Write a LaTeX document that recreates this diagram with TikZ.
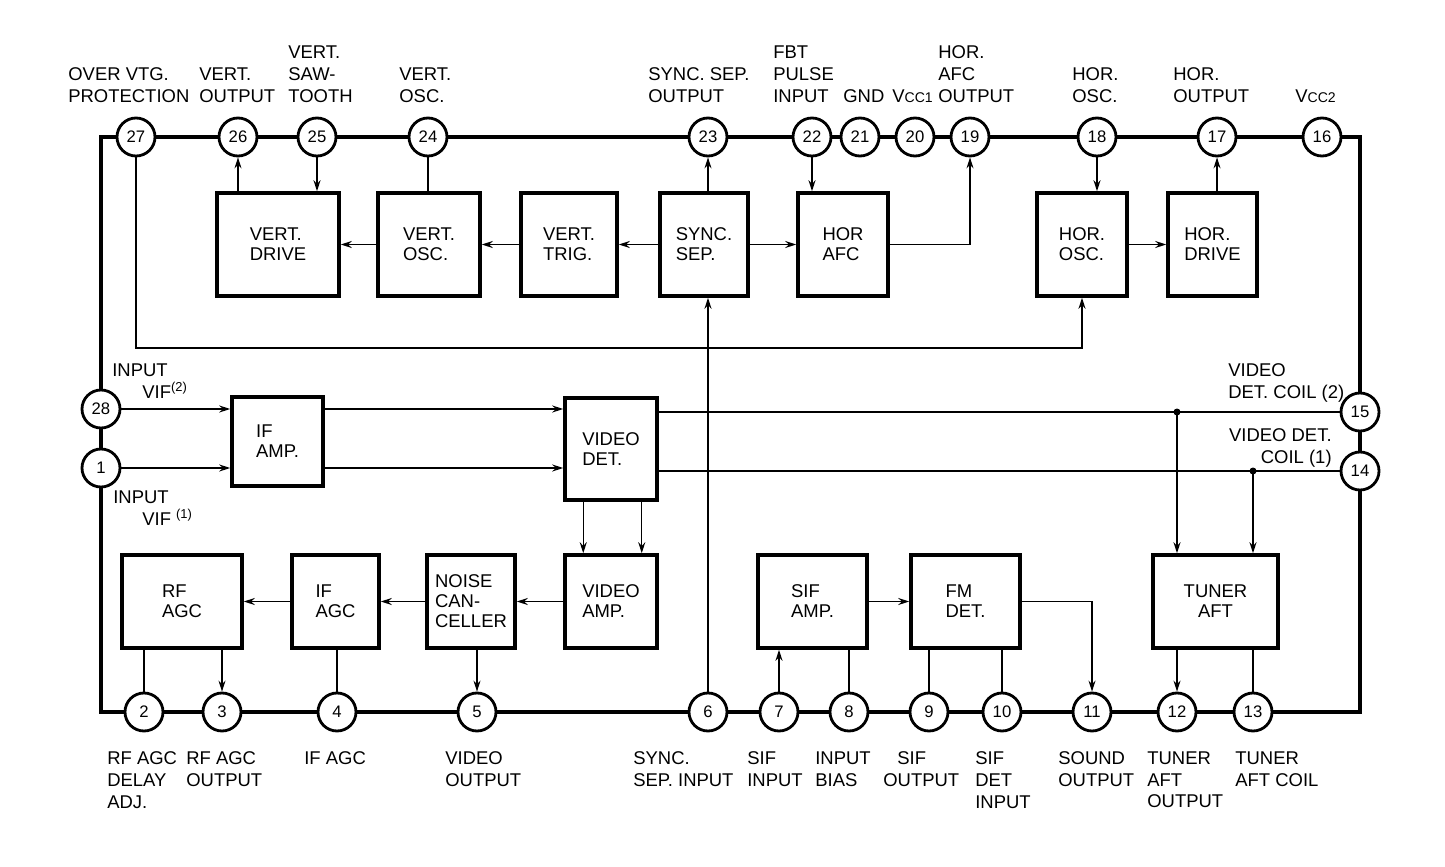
\documentclass[tikz,border=0pt]{standalone}
\usepackage{fontspec}
\setmainfont{Liberation Sans}
\usetikzlibrary{arrows.meta,positioning}

\newcommand{\lblfont}{\fontsize{10.5}{12.5}\selectfont}
\newcommand{\blkfont}{\fontsize{10.5}{11.4}\selectfont}
\newcommand{\vcc}[1]{V{\fontsize{8}{8}\selectfont CC#1}}

\tikzstyle{border} = [line width=2.4pt]
\tikzstyle{blk} = [draw, line width=2pt, fill=white, align=left, font=\blkfont, inner sep=0pt]
\tikzstyle{pinnode} = [draw, circle, line width=1.6pt, fill=white, minimum size=7.6mm, inner sep=0pt, font=\fontsize{9.5}{9.5}\selectfont]
\tikzstyle{sig} = [line width=0.8pt, -{Stealth[length=2.2mm,width=1.4mm]}]
\tikzstyle{wire} = [line width=0.8pt]
\tikzstyle{lbl} = [align=left, inner sep=0pt, font=\lblfont]

\begin{document}
\begin{tikzpicture}[x=0.2mm, y=-0.2mm]
    \useasboundingbox (0,0) rectangle (1445,867);

    % Package outline
    \draw[border] (101,137) rectangle (1360,712);

    % Pins
    \foreach \n/\x in {27/136, 26/238, 25/317, 24/428, 23/708, 22/812, 21/860, 20/915, 19/970, 18/1097, 17/1217, 16/1322}
        \node[pinnode] (p\n) at (\x,137) {\n};
    \foreach \n/\x in {2/144, 3/222, 4/337, 5/477, 6/708, 7/779, 8/849, 9/929, 10/1002, 11/1092, 12/1177, 13/1253}
        \node[pinnode] (p\n) at (\x,712) {\n};
    \node[pinnode] (p28) at (101,409) {28};
    \node[pinnode] (p1) at (101,468) {1};
    \node[pinnode] (p15) at (1360,412) {15};
    \node[pinnode] (p14) at (1360,471) {14};

    % Blocks, top row
    \node[blk, minimum width=24.4mm, minimum height=20.6mm] (vdrive) at (278,244.5) {VERT.\\DRIVE};
    \node[blk, minimum width=20.4mm, minimum height=20.6mm] (vosc) at (429,244.5) {VERT.\\OSC.};
    \node[blk, minimum width=19.2mm, minimum height=20.6mm] (vtrig) at (569,244.5) {VERT.\\TRIG.};
    \node[blk, minimum width=17.6mm, minimum height=20.6mm] (syncsep) at (704,244.5) {SYNC.\\SEP.};
    \node[blk, minimum width=18mm, minimum height=20.6mm] (horafc) at (843,244.5) {HOR\\AFC};
    \node[blk, minimum width=18mm, minimum height=20.6mm] (horosc) at (1082,244.5) {HOR.\\OSC.};
    \node[blk, minimum width=17.8mm, minimum height=20.6mm] (hordrive) at (1212.5,244.5) {HOR.\\DRIVE};

    % Blocks, middle
    \node[blk, minimum width=18.2mm, minimum height=17.8mm] (ifamp) at (277.5,441.5) {IF\\AMP.};
    \node[blk, minimum width=18.4mm, minimum height=20.4mm] (viddet) at (611,449) {VIDEO\\DET.};

    % Blocks, bottom row
    \node[blk, minimum width=24mm, minimum height=18.6mm] (rfagc) at (182,601.5) {RF\\AGC};
    \node[blk, minimum width=17.4mm, minimum height=18.6mm] (ifagc) at (335.5,601.5) {IF\\AGC};
    \node[blk, minimum width=17.6mm, minimum height=18.6mm] (noise) at (471,601.5) {NOISE\\CAN-\\CELLER};
    \node[blk, minimum width=18.4mm, minimum height=18.6mm] (vidamp) at (611,601.5) {VIDEO\\AMP.};
    \node[blk, minimum width=21.8mm, minimum height=18.6mm] (sifamp) at (812.5,601.5) {SIF\\AMP.};
    \node[blk, minimum width=21.8mm, minimum height=18.6mm] (fmdet) at (965.5,601.5) {FM\\DET.};
    \node[blk, minimum width=25mm, minimum height=18.6mm, align=center] (tuner) at (1215.5,601.5) {TUNER\\AFT};

    \coordinate (bend27) at (136,348);
    \coordinate (j15) at (p12 |- p15);
    \coordinate (j14) at (p13 |- p14);

    % Top connections
    \draw[sig] (p26 |- vdrive.north) -- (p26);
    \draw[sig] (p25) -- (p25 |- vdrive.north);
    \draw[wire] (p24) -- (p24 |- vosc.north);
    \draw[sig] (vosc) -- (vdrive);
    \draw[sig] (vtrig) -- (vosc);
    \draw[sig] (syncsep) -- (vtrig);
    \draw[sig] (p23 |- syncsep.north) -- (p23);
    \draw[sig] (syncsep) -- (horafc);
    \draw[sig] (p22) -- (p22 |- horafc.north);
    \draw[sig] (horafc) -| (p19);
    \draw[sig] (p18) -- (p18 |- horosc.north);
    \draw[sig] (p17 |- hordrive.north) -- (p17);
    \draw[sig] (horosc) -- (hordrive);
    \draw[sig] (p27) -- (bend27) -| (horosc);

    % IF / video detector
    \draw[sig] (p28) -- (p28 -| ifamp.west);
    \draw[sig] (p1) -- (p1 -| ifamp.west);
    \draw[sig] (ifamp.east |- p28) -- (viddet.west |- p28);
    \draw[sig] (ifamp.east |- p1) -- (viddet.west |- p1);
    \draw[wire] (viddet.east |- p15) -- (p15);
    \draw[wire] (viddet.east |- p14) -- (p14);
    \fill (j15) circle (0.7mm);
    \fill (j14) circle (0.7mm);
    \draw[sig] (j15) -- (j15 |- tuner.north);
    \draw[sig] (j14) -- (j14 |- tuner.north);
    \draw[sig] ([xshift=4mm]viddet.south west) -- ([xshift=4mm]vidamp.north west);
    \draw[sig] ([xshift=-3.4mm]viddet.south east) -- ([xshift=-3.4mm]vidamp.north east);

    % Bottom connections
    \draw[sig] (vidamp) -- (noise);
    \draw[sig] (noise) -- (ifagc);
    \draw[sig] (ifagc) -- (rfagc);
    \draw[wire] (p2 |- rfagc.south) -- (p2);
    \draw[sig] (p3 |- rfagc.south) -- (p3);
    \draw[wire] (p4 |- ifagc.south) -- (p4);
    \draw[sig] (p5 |- noise.south) -- (p5);
    \draw[sig] (p6) -- (p6 |- syncsep.south);
    \draw[sig] (p7) -- (p7 |- sifamp.south);
    \draw[wire] (p8 |- sifamp.south) -- (p8);
    \draw[sig] (sifamp) -- (fmdet);
    \draw[wire] (p9 |- fmdet.south) -- (p9);
    \draw[wire] (p10 |- fmdet.south) -- (p10);
    \draw[sig] (fmdet) -| (p11);
    \draw[sig] (p12 |- tuner.south) -- (p12);
    \draw[wire] (p13 |- tuner.south) -- (p13);

    % Pin labels, top
    \node[lbl, anchor=south west] (l27) at (68,103) {OVER VTG.\\PROTECTION};
    \node[lbl, anchor=south west] (l26) at (199,103) {VERT.\\OUTPUT};
    \node[lbl, anchor=south west] (l25) at (288,103) {VERT.\\SAW-\\TOOTH};
    \node[lbl, anchor=south west] (l24) at (399,103) {VERT.\\OSC.};
    \node[lbl, anchor=south west] (l23) at (648,103) {SYNC. SEP.\\OUTPUT};
    \node[lbl, anchor=south west] (l22) at (773,103) {FBT\\PULSE\\INPUT};
    \node[lbl, anchor=south west] (l21) at (843,103) {GND};
    \node[lbl, anchor=south west] (l20) at (892,103) {\vcc{1}};
    \node[lbl, anchor=south west] (l19) at (938,103) {HOR.\\AFC\\OUTPUT};
    \node[lbl, anchor=south west] (l18) at (1072,103) {HOR.\\OSC.};
    \node[lbl, anchor=south west] (l17) at (1173,103) {HOR.\\OUTPUT};
    \node[lbl, anchor=south west] (l16) at (1295,103) {\vcc{2}};

    % Pin labels, sides
    \node[lbl, anchor=north west] (l28) at (112,363) {INPUT\\\hspace*{6mm}VIF\textsuperscript{(2)}};
    \node[lbl, anchor=north west] (l1) at (113,490) {INPUT\\\hspace*{5.8mm}VIF \textsuperscript{(1)}};
    \node[lbl, anchor=north west] (l15) at (1228,363) {VIDEO\\DET. COIL (2)};
    \node[lbl, anchor=north east, align=right] (l14) at (1332,428) {VIDEO DET.\\COIL (1)};

    % Pin labels, bottom
    \node[lbl, anchor=north west] (l2) at (107,751) {RF AGC\\DELAY\\ADJ.};
    \node[lbl, anchor=north west] (l3) at (186,751) {RF AGC\\OUTPUT};
    \node[lbl, anchor=north west] (l4) at (304,751) {IF AGC};
    \node[lbl, anchor=north west] (l5) at (445,751) {VIDEO\\OUTPUT};
    \node[lbl, anchor=north west] (l6) at (633,751) {SYNC.\\SEP. INPUT};
    \node[lbl, anchor=north west] (l7) at (747,751) {SIF\\INPUT};
    \node[lbl, anchor=north west] (l8) at (815,751) {INPUT\\BIAS};
    \node[lbl, anchor=north west] (l9) at (883,751) {\hspace*{2.8mm}SIF\\OUTPUT};
    \node[lbl, anchor=north west] (l10) at (975,751) {SIF\\DET\\INPUT};
    \node[lbl, anchor=north west] (l11) at (1058,751) {SOUND\\OUTPUT};
    \node[lbl, anchor=north west] (l12) at (1147,751) {TUNER\\AFT\\OUTPUT};
    \node[lbl, anchor=north west] (l13) at (1235,751) {TUNER\\AFT COIL};
\end{tikzpicture}
\end{document}
